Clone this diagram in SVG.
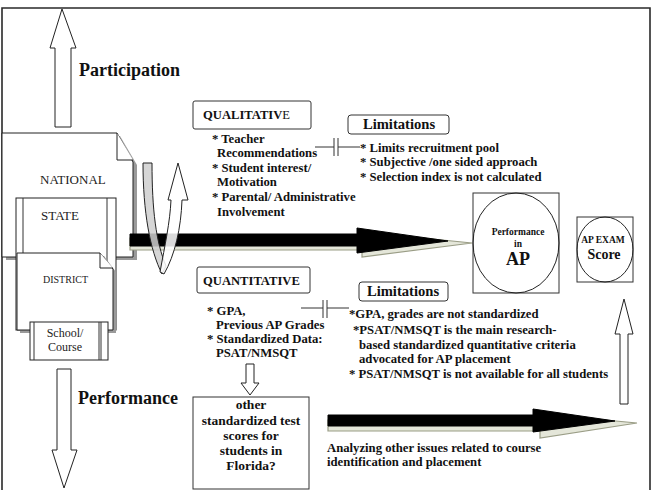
<svg xmlns="http://www.w3.org/2000/svg" width="651" height="490" viewBox="0 0 651 490">
<style>
.t{font-family:"Liberation Serif","Times New Roman",serif;font-weight:bold;fill:#111}
.n{font-family:"Liberation Serif","Times New Roman",serif;fill:#222}
.b{font-size:12.7px}
.box{fill:#fff;stroke:#333;stroke-width:1}
.doc{fill:#fff;stroke:#222;stroke-width:1}
.sh{fill:#9a9a9a;stroke:none}
.ha{fill:#fff;stroke:#222;stroke-width:1}
.blk{fill:#000;stroke:#000;stroke-width:1}
.shd{fill:#e4e6d9;stroke:#9a9d86;stroke-width:1.2}
.ln{stroke:#333;stroke-width:1;fill:none}
</style>
<rect width="651" height="490" fill="#fff"/>
<path d="M2,500 V8 H650 V500" fill="none" stroke="#2a2a2a" stroke-width="1.6"/>

<g id="documents">
  <g id="national">
    <path class="sh" d="M6,136 H120 L137,165 V260 H6 Z"/>
    <path class="doc" d="M2,133 H117 L133,162 V257 H2 Z"/>
    <path class="doc" d="M117,133 V160 H133"/>
    <text class="n" x="40" y="184" font-size="13">NATIONAL</text>
  </g>
  <g id="state">
    <rect class="doc" x="16" y="198" width="100" height="132"/>
    <line class="ln" x1="23" y1="198" x2="23" y2="330"/>
    <line class="ln" x1="107" y1="198" x2="107" y2="330"/>
    <text class="n" x="41" y="220" font-size="13">STATE</text>
  </g>
  <g id="district">
    <path class="sh" d="M20,256 H104 L116,272 V333 H20 Z"/>
    <path class="doc" d="M17,253 H100 L113,269 V330 H17 Z"/>
    <path class="doc" d="M100,253 V268 H113"/>
    <text class="n" x="43" y="283" font-size="10">DISTRICT</text>
  </g>
  <g id="school">
    <rect class="doc" x="30" y="322" width="78" height="38"/>
    <line class="ln" x1="34" y1="322" x2="34" y2="360"/>
    <line class="ln" x1="99" y1="322" x2="99" y2="360"/>
    <line class="ln" x1="101" y1="322" x2="101" y2="360"/>
    <text class="n" x="65" y="337" font-size="12" text-anchor="middle">School/</text>
    <text class="n" x="65" y="351" font-size="12" text-anchor="middle">Course</text>
  </g>
</g>

<g id="connectors">
  <path class="ha" d="M55,127 V48 H50 L62,9 L76,48 H71 V127 Z"/>
  <path class="ha" d="M57,369 V450 H52 L64,488 L77,450 H71 V369 Z"/>
  <path class="ha" d="M620,404 V334 H615 L624,299 L633,334 H628 V404 Z"/>
  <path class="ha" d="M246,364 H254 V383 H259 L250,395 L241,383 H246 Z"/>
  <path class="shd" d="M130,238 H362 V232 L472,243 L362,257 V250 H130 Z"/>
  <path class="blk" d="M130,234 H357 V228 L448,241 L357,253 V246 H130 Z"/>
  <path class="shd" d="M328,420 H540 V414 L637,423 L540,438 V431 H328 Z"/>
  <path class="blk" d="M328,415 H533 V409 L615,421 L533,432 V426 H328 Z"/>
  <path d="M143,163 H152 C152,210 156,242 166,266 L162,274 C150,250 143,212 143,163 Z" fill="#cfcfcf" fill-opacity="0.85" stroke="#222" stroke-width="1"/>
  <path d="M160,272 C165,245 170,222 171,200 H168 L178,163 L188,200 H182 C181,228 175,255 164,274 Z" fill="#fff" fill-opacity="0.85" stroke="#222" stroke-width="1"/>
  <path class="ln" d="M315,147 H334 M334,138 V156 M338,138 V156 M338,147 H360"/>
  <path class="ln" d="M301,308 H323 M323,300 V318 M327,300 V318 M327,308 H349"/>
</g>

<g id="labels">
  <text class="t" x="79" y="76" font-size="18">Participation</text>
  <text class="t" x="78" y="404" font-size="18">Performance</text>
</g>

<g id="qualitative">
  <rect class="box" x="193" y="101" width="118" height="28" rx="2"/>
  <text class="t" x="203" y="119" font-size="12.6">QUALITATIV<tspan font-weight="normal">E</tspan></text>
  <text class="t b" x="212" y="143">* Teacher</text>
  <text class="t b" x="217" y="157">Recommendations</text>
  <text class="t b" x="212" y="172">* Student interest/</text>
  <text class="t b" x="217" y="186">Motivation</text>
  <text class="t b" x="212" y="201">* Parental/ Administrative</text>
  <text class="t b" x="217" y="216">Involvement</text>
</g>

<g id="limitations1">
  <rect class="box" x="348" y="115" width="101" height="19" rx="3"/>
  <text class="t" x="399" y="129" font-size="14.6" text-anchor="middle">Limitations</text>
  <text class="t b" x="360" y="152">* Limits recruitment pool</text>
  <text class="t b" x="360" y="166">* Subjective /one sided approach</text>
  <text class="t b" x="360" y="181">* Selection index is not calculated</text>
</g>

<g id="performance-ap">
  <rect class="box" x="473" y="193" width="86" height="100"/>
  <ellipse cx="516" cy="243" rx="43" ry="50" fill="none" stroke="#222"/>
  <text class="t" x="518" y="235" font-size="9.5" text-anchor="middle">Performance</text>
  <text class="t" x="518" y="247" font-size="9.5" text-anchor="middle">in</text>
  <text class="t" x="518" y="265" font-size="18" text-anchor="middle">AP</text>
</g>

<g id="ap-exam">
  <rect class="box" x="577" y="217" width="56" height="65"/>
  <ellipse cx="605" cy="249.5" rx="28" ry="32.5" fill="none" stroke="#222"/>
  <text class="t" x="603" y="243" font-size="9.5" text-anchor="middle">AP EXAM</text>
  <text class="t" x="604" y="259" font-size="14" text-anchor="middle">Score</text>
</g>

<g id="quantitative">
  <rect class="box" x="197" y="267" width="113" height="26" rx="2"/>
  <text class="t" x="203" y="285" font-size="12.6">QUANTITATIVE</text>
  <text class="t b" x="207" y="315">* GPA,</text>
  <text class="t b" x="216" y="329">Previous AP Grades</text>
  <text class="t b" x="207" y="343">* Standardized Data:</text>
  <text class="t b" x="216" y="357">PSAT/NMSQT</text>
</g>

<g id="limitations2">
  <rect class="box" x="359" y="282" width="89" height="19" rx="3"/>
  <text class="t" x="403" y="296" font-size="14.6" text-anchor="middle">Limitations</text>
  <text class="t b" x="349" y="318">*GPA, grades are not standardized</text>
  <text class="t b" x="353" y="334">*PSAT/NMSQT is the main research-</text>
  <text class="t b" x="359" y="349">based standardized quantitative criteria</text>
  <text class="t b" x="359" y="363">advocated for AP placement</text>
  <text class="t b" x="349" y="378">* PSAT/NMSQT is not available for all students</text>
</g>

<g id="other-scores">
  <rect class="box" x="193" y="397" width="116" height="92"/>
  <text class="t" x="251" y="409" font-size="13.5" text-anchor="middle">other</text>
  <text class="t" x="251" y="425" font-size="13.5" text-anchor="middle">standardized test</text>
  <text class="t" x="251" y="440" font-size="13.5" text-anchor="middle">scores for</text>
  <text class="t" x="251" y="455" font-size="13.5" text-anchor="middle">students in</text>
  <text class="t" x="251" y="470" font-size="13.5" text-anchor="middle">Florida?</text>
</g>

<g id="analyzing">
  <text class="t b" x="327" y="452">Analyzing other issues related to course</text>
  <text class="t b" x="327" y="466">identification and placement</text>
</g>
</svg>
